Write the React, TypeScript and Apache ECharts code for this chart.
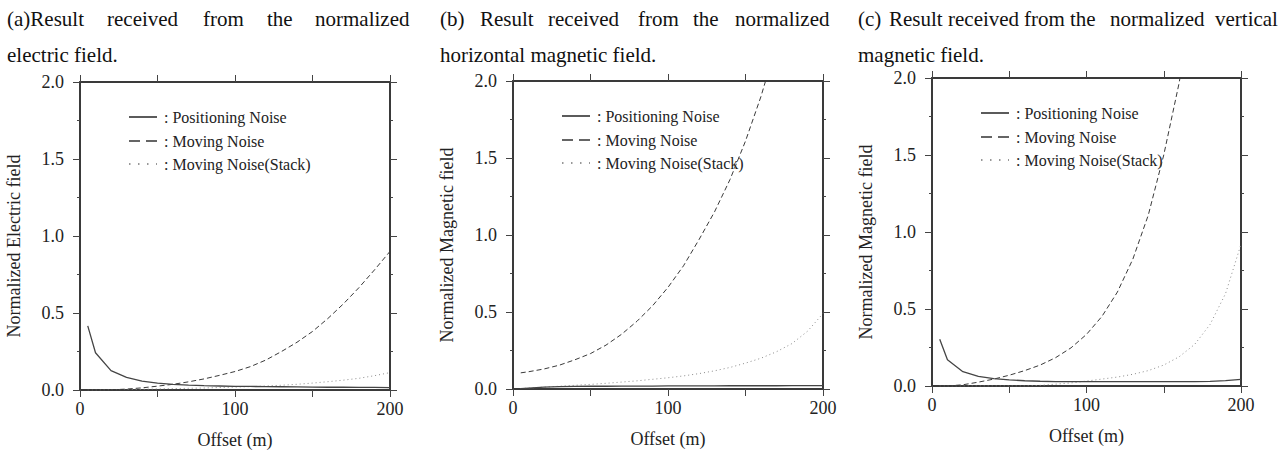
import React, { useEffect, useRef } from 'react';
import * as echarts from 'echarts';

// Offsets (m) at which the curves are sampled
const offsets = [5, 10, 20, 30, 40, 50, 60, 70, 80, 90, 100, 110, 120, 130, 140, 150, 160, 170, 180, 190, 200];

// (a) normalized electric field
const aPositioning = [0.416, 0.242, 0.126, 0.082, 0.058, 0.045, 0.037, 0.032, 0.028, 0.026, 0.024, 0.023, 0.022, 0.021, 0.02, 0.019, 0.018, 0.018, 0.017, 0.017, 0.016];
const aMoving = [0, 0, 0.001, 0.006, 0.014, 0.025, 0.037, 0.053, 0.072, 0.095, 0.12, 0.152, 0.195, 0.25, 0.31, 0.38, 0.465, 0.56, 0.665, 0.78, 0.9];
const aStack = [0, 0, 0.002, 0.003, 0.005, 0.007, 0.009, 0.011, 0.013, 0.016, 0.019, 0.022, 0.026, 0.031, 0.037, 0.045, 0.054, 0.064, 0.076, 0.093, 0.113];

// (b) normalized horizontal magnetic field
const bPositioning = [0.002, 0.006, 0.012, 0.015, 0.017, 0.018, 0.018, 0.019, 0.019, 0.019, 0.02, 0.02, 0.02, 0.02, 0.021, 0.021, 0.021, 0.021, 0.022, 0.022, 0.022];
const bMoving = [0.105, 0.112, 0.13, 0.155, 0.19, 0.23, 0.285, 0.355, 0.44, 0.54, 0.66, 0.8, 0.97, 1.15, 1.36, 1.61, 1.9, 2.24];
const bStack = [0.003, 0.006, 0.012, 0.018, 0.024, 0.03, 0.037, 0.045, 0.053, 0.063, 0.073, 0.085, 0.1, 0.118, 0.14, 0.168, 0.2, 0.242, 0.295, 0.375, 0.49];

// (c) normalized vertical magnetic field
const cPositioning = [0.303, 0.17, 0.093, 0.063, 0.048, 0.04, 0.034, 0.031, 0.029, 0.028, 0.028, 0.028, 0.028, 0.028, 0.028, 0.028, 0.028, 0.029, 0.03, 0.035, 0.043];
const cMoving = [0, 0, 0.008, 0.025, 0.045, 0.07, 0.1, 0.136, 0.184, 0.248, 0.335, 0.452, 0.61, 0.824, 1.11, 1.5, 1.97, 2.6];
const cStack = [0, 0, 0, 0, 0, 0, 0, 0.004, 0.012, 0.02, 0.032, 0.045, 0.058, 0.076, 0.1, 0.136, 0.19, 0.27, 0.4, 0.6, 0.92];

const seriesNames = [': Positioning Noise', ': Moving Noise', ': Moving Noise(Stack)'];
const yNames = ['Normalized Electric field', 'Normalized Magnetic field', 'Normalized Magnetic field'];
const xName = 'Offset (m)';

const FONT = "'Liberation Serif', 'Times New Roman', serif";

const pair = (vals: number[]) => vals.map((v, i) => [offsets[i], v]);

export default function App() {
  const ref = useRef<HTMLDivElement>(null);
  useEffect(() => {
    if (!ref.current) return;
    const chart = echarts.init(ref.current, null, { renderer: 'svg' });

    const panels = [
      {
        left: 80, top: 82, width: 310, height: 308,
        data: [aPositioning, aMoving, aStack],
        title: [
          { y: 19, words: [['(a)Result', 7], ['received', 107], ['from', 203], ['the', 267], ['normalized', 315]] },
          { y: 55, words: [['electric field.', 7]] },
        ],
      },
      {
        left: 513, top: 81, width: 310, height: 308,
        data: [bPositioning, bMoving, bStack],
        title: [
          { y: 19, words: [['(b)', 440], ['Result', 480], ['received', 548], ['from', 638], ['the', 693], ['normalized', 735]] },
          { y: 55, words: [['horizontal magnetic field.', 440]] },
        ],
      },
      {
        left: 932, top: 78, width: 309, height: 308,
        data: [cPositioning, cMoving, cStack],
        title: [
          { y: 19, words: [['(c)', 858], ['Result', 889], ['received', 948], ['from', 1024], ['the', 1070], ['normalized', 1110], ['vertical', 1215]] },
          { y: 55, words: [['magnetic field.', 858]] },
        ],
      },
    ];

    const axisLine = { show: true, onZero: false, lineStyle: { color: '#3a3a3a', width: 2 } };
    const tick = { show: true, inside: false, length: 7, lineStyle: { color: '#444', width: 1 } };

    const grids: any[] = [];
    const xAxes: any[] = [];
    const yAxes: any[] = [];
    const series: any[] = [];
    const graphics: any[] = [];

    const styles = [
      { color: '#454545', width: 1.3, type: 'solid' },
      { color: '#3a3a3a', width: 1, type: [5, 3] },
      { color: '#8a8a8a', width: 1, type: [1, 3] },
    ];

    panels.forEach((p, i) => {
      grids.push({ left: p.left, top: p.top, width: p.width, height: p.height, containLabel: false, outerBoundsMode: 'none' });
      xAxes.push({
        type: 'value', gridIndex: i, position: 'bottom', min: 0, max: 200, interval: 50,
        axisLine, axisTick: tick, splitLine: { show: false },
        axisLabel: {
          show: true, margin: 10, color: '#222', fontSize: 18, fontFamily: FONT,
          formatter: (v: number) => (v % 100 === 0 ? String(v) : ''),
        },
        name: xName, nameLocation: 'middle', nameGap: 41,
        nameTextStyle: { color: '#222', fontSize: 18, fontFamily: FONT },
      });
      yAxes.push({
        type: 'value', gridIndex: i, position: 'left', min: 0, max: 2, interval: 0.5,
        axisLine, axisTick: tick, splitLine: { show: false },
        minorTick: { show: true, splitNumber: 2, length: 3, lineStyle: { color: '#444', width: 1 } },
        minorSplitLine: { show: false },
        axisLabel: {
          show: true, margin: 16, color: '#222', fontSize: 18, fontFamily: FONT,
          formatter: (v: number) => v.toFixed(1),
        },
        name: yNames[i], nameLocation: 'middle', nameGap: 57, nameRotate: 90,
        nameTextStyle: { color: '#222', fontSize: 18, fontFamily: FONT, padding: [0, 20, 0, 0] },
      });
    });
    panels.forEach((p, i) => {
      xAxes.push({
        type: 'value', gridIndex: i, position: 'top', min: 0, max: 200, interval: 50,
        axisLine, axisTick: tick, splitLine: { show: false }, axisLabel: { show: false },
      });
      yAxes.push({
        type: 'value', gridIndex: i, position: 'right', min: 0, max: 2, interval: 0.5,
        axisLine, axisTick: tick, splitLine: { show: false },
        minorTick: { show: true, splitNumber: 2, length: 3, lineStyle: { color: '#444', width: 1 } },
        axisLabel: { show: false },
      });
    });

    panels.forEach((p, i) => {
      p.data.forEach((vals, k) => {
        series.push({
          type: 'line', name: seriesNames[k], xAxisIndex: i, yAxisIndex: i,
          data: pair(vals), showSymbol: false, symbol: 'none', clip: true,
          lineStyle: { color: styles[k].color, width: styles[k].width, type: styles[k].type },
          itemStyle: { color: styles[k].color },
          z: 3 - k,
        });
      });

      // in-plot legend
      const legendY = [35, 59, 82];
      const iconStyles = [
        { stroke: '#333', lineWidth: 1.6 },
        { stroke: '#333', lineWidth: 1.6, lineDash: [11, 6] },
        { stroke: '#777', lineWidth: 1.5, lineDash: [1.5, 7.5] },
      ];
      legendY.forEach((dy, k) => {
        graphics.push({
          type: 'line', silent: true,
          shape: { x1: p.left + 49, y1: p.top + dy, x2: p.left + 77, y2: p.top + dy },
          style: iconStyles[k],
        });
        graphics.push({
          type: 'text', silent: true, x: p.left + 84, y: p.top + dy,
          style: { text: seriesNames[k], fontSize: 16, fontFamily: FONT, fill: '#222', verticalAlign: 'middle', align: 'left' },
        });
      });

      // caption above each panel
      p.title.forEach((line) => {
        line.words.forEach(([w, x]) => {
          graphics.push({
            type: 'text', silent: true, x: x as number, y: line.y,
            style: { text: w as string, fontSize: 21, fontFamily: FONT, fill: '#111', verticalAlign: 'middle', align: 'left' },
          });
        });
      });
    });

    chart.setOption({
      animation: false,
      backgroundColor: '#fff',
      grid: grids,
      xAxis: xAxes,
      yAxis: yAxes,
      series,
      graphic: graphics,
      tooltip: { show: false },
    });

    return () => chart.dispose();
  }, []);

  return <div ref={ref} style={{ position: 'absolute', left: 0, top: 0, width: 1285, height: 450 }} />;
}
